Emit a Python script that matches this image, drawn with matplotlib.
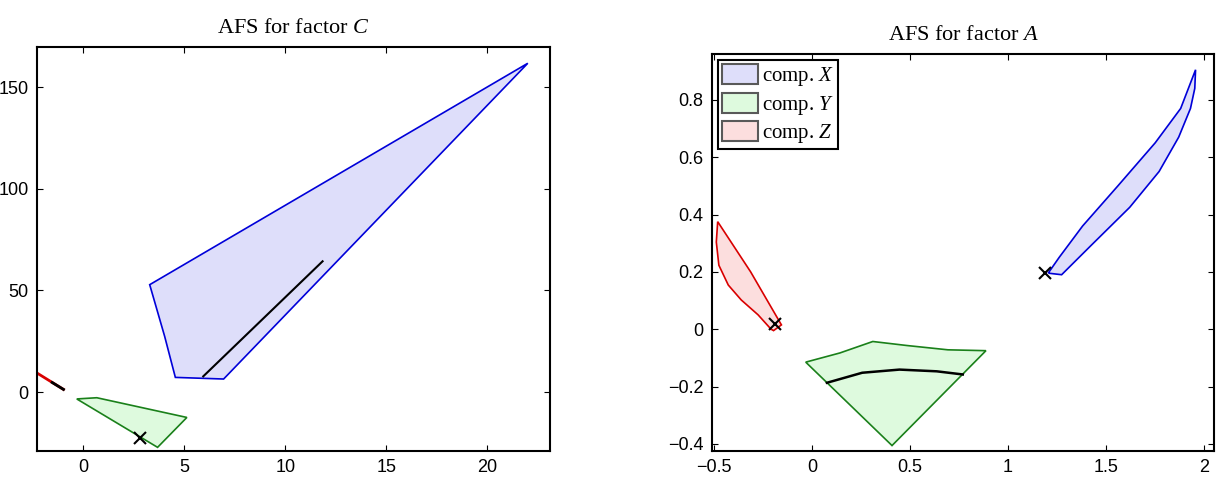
import matplotlib
matplotlib.use("Agg")
import matplotlib.pyplot as plt
from matplotlib.patches import Polygon, Patch

plt.rcParams['font.family'] = 'Liberation Sans'
plt.rcParams['mathtext.fontset'] = 'custom'
plt.rcParams['mathtext.rm'] = 'Liberation Serif'
plt.rcParams['mathtext.it'] = 'Liberation Serif:italic'

# ---- AFS for factor C ----
c_blue_x = [3.28, 4.02, 4.55, 6.94, 22.0]
c_blue_y = [52.8, 27.4, 7.2, 6.4, 161.7]
c_blue_line_x = [5.93, 11.84]
c_blue_line_y = [7.7, 64.3]
c_green_x = [-0.33, 0.66, 5.12, 3.67]
c_green_y = [-3.4, -2.8, -12.5, -27.2]
c_green_cross = (2.81, -22.5)
c_red_x = [-2.6, -0.99]
c_red_y = [11.2, 1.3]
c_red_line_x = [-1.55, -0.99]
c_red_line_y = [4.7, 1.3]

# ---- AFS for factor A ----
a_blue_x = [1.956, 1.952, 1.93, 1.87, 1.77, 1.62, 1.42, 1.273, 1.21,
            1.206, 1.26, 1.38, 1.56, 1.75, 1.88]
a_blue_y = [0.905, 0.84, 0.77, 0.67, 0.55, 0.425, 0.29, 0.19, 0.195,
            0.197, 0.25, 0.36, 0.5, 0.65, 0.77]
a_blue_cross = (1.187, 0.197)
a_red_x = [-0.481, -0.488, -0.475, -0.427, -0.361, -0.275, -0.209, -0.196, -0.156, -0.313]
a_red_y = [0.375, 0.304, 0.223, 0.154, 0.102, 0.05, 0.0, -0.005, 0.015, 0.2]
a_red_cross = (-0.19, 0.018)
a_green_x = [-0.032, 0.142, 0.310, 0.484, 0.693, 0.887, 0.408]
a_green_y = [-0.115, -0.083, -0.043, -0.057, -0.072, -0.075, -0.406]
a_green_line_x = [0.076, 0.256, 0.446, 0.636, 0.769]
a_green_line_y = [-0.187, -0.152, -0.141, -0.147, -0.158]

legend_labels = ['comp. $X$', 'comp. $Y$', 'comp. $Z$']

blue_face, blue_edge = (0.87, 0.87, 0.98), (0.0, 0.0, 0.85)
green_face, green_edge = (0.87, 0.98, 0.87), (0.1, 0.5, 0.1)
red_face, red_edge = (0.99, 0.87, 0.87), (0.85, 0.0, 0.0)

fig = plt.figure(figsize=(12.22, 4.88), dpi=100)
ax1 = fig.add_axes([37/1222, 37/488, 513/1222, 404/488])
ax2 = fig.add_axes([712/1222, 37/488, 502/1222, 397/488])


def shape(ax, xs, ys, face, edge, lw=1.2):
    ax.add_patch(Polygon(list(zip(xs, ys)), closed=True, facecolor=face,
                         edgecolor=edge, linewidth=lw))


shape(ax1, c_blue_x, c_blue_y, blue_face, blue_edge)
shape(ax1, c_green_x, c_green_y, green_face, green_edge)
ax1.plot(c_red_x, c_red_y, color=red_edge, lw=2)
ax1.plot(c_blue_line_x, c_blue_line_y, color='k', lw=1.5)
ax1.plot(c_red_line_x, c_red_line_y, color='k', lw=2)
ax1.plot(*c_green_cross, 'kx', ms=8, mew=1.5)
ax1.set_xlim(-2.3, 23.1)
ax1.set_ylim(-29, 169.7)
ax1.set_xticks([0, 5, 10, 15, 20])
ax1.set_yticks([0, 50, 100, 150])
ax1.set_title('AFS for factor $C$', fontsize=16, family='Liberation Serif', pad=10)

shape(ax2, a_blue_x, a_blue_y, blue_face, blue_edge)
shape(ax2, a_green_x, a_green_y, green_face, green_edge)
shape(ax2, a_red_x, a_red_y, red_face, red_edge)
ax2.plot(a_green_line_x, a_green_line_y, color='k', lw=1.8)
ax2.plot(*a_blue_cross, 'kx', ms=8, mew=1.5)
ax2.plot(*a_red_cross, 'kx', ms=8, mew=1.5)
ax2.set_xlim(-0.51, 2.05)
ax2.set_ylim(-0.425, 0.96)
ax2.set_xticks([-0.5, 0, 0.5, 1, 1.5, 2])
ax2.set_xticklabels(['\u22120.5', '0', '0.5', '1', '1.5', '2'])
ax2.set_yticks([-0.4, -0.2, 0, 0.2, 0.4, 0.6, 0.8])
ax2.set_yticklabels(['\u22120.4', '\u22120.2', '0', '0.2', '0.4', '0.6', '0.8'])
ax2.set_title('AFS for factor $A$', fontsize=16, family='Liberation Serif', pad=10)

handles = [Patch(facecolor=f, edgecolor='0.35', linewidth=1.5)
           for f in (blue_face, green_face, red_face)]
leg = ax2.legend(handles, legend_labels, loc='upper left', fancybox=False,
                 edgecolor='k', framealpha=1, borderaxespad=0.3, borderpad=0.2,
                 handlelength=1.7, handleheight=1.1, handletextpad=0.2,
                 labelspacing=0.2, prop={'family': 'Liberation Serif', 'size': 15})
leg.get_frame().set_linewidth(1.5)

for ax in (ax1, ax2):
    ax.tick_params(direction='in', top=True, right=True, length=4,
                   labelsize=13, width=0.8, pad=6)
    for s in ax.spines.values():
        s.set_linewidth(1.5)

fig.savefig('out.png', dpi=100)
